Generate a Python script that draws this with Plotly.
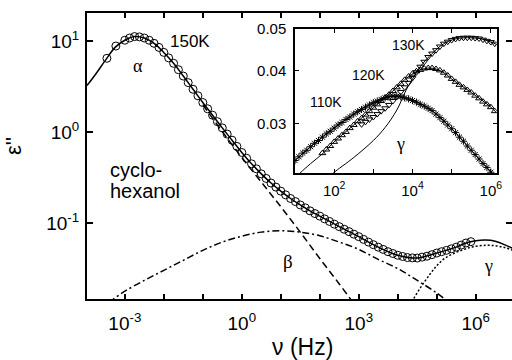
import plotly.graph_objects as go

# ---------------- main panel: cyclohexanol, 150 K ----------------
# measured dielectric loss (open circles)
nu_150K = [3.47e-4, 5.89e-4,
           1.00e-3, 1.33e-3, 1.78e-3, 2.37e-3, 3.16e-3, 4.22e-3, 5.62e-3, 7.50e-3,
           1.00e-2, 1.33e-2, 1.78e-2, 2.37e-2, 3.16e-2, 4.22e-2, 5.62e-2, 7.50e-2,
           1.00e-1, 1.33e-1, 1.78e-1, 2.37e-1, 3.16e-1, 4.22e-1, 5.62e-1, 7.50e-1,
           1.00e0, 1.33e0, 1.78e0, 2.37e0, 3.16e0, 4.22e0, 5.62e0, 7.50e0,
           1.00e1, 1.33e1, 1.78e1, 2.37e1, 3.16e1, 4.22e1, 5.62e1, 7.50e1,
           1.00e2, 1.33e2, 1.78e2, 2.37e2, 3.16e2, 4.22e2, 5.62e2, 7.50e2,
           1.00e3, 1.33e3, 1.78e3, 2.37e3, 3.16e3, 4.22e3, 5.62e3, 7.50e3,
           1.00e4, 1.33e4, 1.78e4, 2.37e4, 3.16e4, 4.22e4, 5.62e4, 7.50e4,
           1.00e5, 1.33e5, 1.78e5, 2.37e5, 3.16e5, 4.22e5, 5.62e5, 7.50e5]
eps_150K = [6.46, 8.81,
            10.2, 10.8, 11.2, 11.1, 10.8, 10.2, 9.44, 8.51,
            7.50, 6.53, 5.69, 4.84, 4.12, 3.49, 2.95, 2.50,
            2.11, 1.80, 1.53, 1.30, 1.11, 0.949, 0.813, 0.695,
            0.596, 0.515, 0.447, 0.394, 0.347, 0.309, 0.275, 0.248,
            0.224, 0.204, 0.186, 0.172, 0.158, 0.147, 0.136, 0.127,
            0.119, 0.111, 0.104, 0.0971, 0.0912, 0.0855, 0.0804, 0.0754,
            0.0708, 0.0661, 0.0617, 0.0578, 0.0543, 0.0513, 0.0484, 0.0462,
            0.0442, 0.0429, 0.0417, 0.0414, 0.0412, 0.0422, 0.0432, 0.0449,
            0.0468, 0.0484, 0.0501, 0.0521, 0.0543, 0.0572, 0.0603, 0.0624]

# total fit curve
nu_fit = [1.07e-4, 1.78e-4, 3.16e-4, 5.62e-4, 1.00e-3, 1.78e-3, 3.16e-3, 5.62e-3,
          1.00e-2, 1.78e-2, 3.16e-2, 5.62e-2, 1.00e-1, 1.78e-1, 3.16e-1, 5.62e-1,
          1.00, 1.78, 3.16, 5.62, 10.0, 17.8, 31.6, 56.2, 100, 316, 1.00e3, 3.16e3,
          1.00e4, 3.16e4, 1.00e5, 3.16e5, 5.62e5, 1.00e6, 1.78e6, 3.16e6, 5.62e6, 1.00e7]
eps_fit = [3.24, 4.32, 6.12, 8.51, 10.2, 11.2, 10.8, 9.44,
           7.50, 5.69, 4.12, 2.95, 2.11, 1.53, 1.11, 0.813,
           0.596, 0.447, 0.347, 0.275, 0.224, 0.186, 0.158, 0.136, 0.119, 0.0912, 0.0708, 0.0543,
           0.0442, 0.0412, 0.0468, 0.0543, 0.0603, 0.0638, 0.0650, 0.0631, 0.0575, 0.0513]

# alpha relaxation (dashed)
nu_alpha = [0.1, 0.316, 1.0, 3.16, 10.0, 31.6, 100, 316, 1000]
eps_alpha = [2.0, 1.01, 0.525, 0.282, 0.151, 0.0794, 0.0407, 0.0214, 0.011]

# beta relaxation (dash-dot)
nu_beta = [3.98e-4, 5.01e-4, 1.00e-3, 3.16e-3, 1.00e-2, 3.16e-2, 0.1, 0.316, 1.0, 3.16,
           10.0, 31.6, 100, 316, 1.00e3, 3.16e3, 1.00e4, 3.16e4, 1.00e5, 2.00e5]
eps_beta = [0.0133, 0.0145, 0.0178, 0.0234, 0.0302, 0.0389, 0.0501, 0.0617, 0.0716, 0.0794,
            0.0822, 0.0794, 0.0724, 0.0617, 0.0513, 0.0398, 0.0316, 0.0234, 0.0170, 0.0135]

# gamma relaxation (dotted)
nu_gamma = [2.00e4, 2.51e4, 3.98e4, 6.76e4, 1.00e5, 1.58e5, 2.69e5, 5.01e5, 8.71e5,
            1.78e6, 3.16e6, 5.62e6, 1.00e7]
eps_gamma = [0.0126, 0.0146, 0.0200, 0.0275, 0.0339, 0.0407, 0.0462, 0.0513, 0.0550,
             0.0569, 0.0562, 0.0537, 0.0490]

# ---------------- inset: gamma relaxation at low temperatures ----------------
nu_grid = [10.0, 12.6, 15.8, 20.0, 25.1, 31.6, 39.8, 50.1, 63.1, 79.4,
           100, 126, 158, 200, 251, 316, 398, 501, 631, 794,
           1.00e3, 1.26e3, 1.58e3, 2.00e3, 2.51e3, 3.16e3, 3.98e3, 5.01e3, 6.31e3, 7.94e3,
           1.00e4, 1.26e4, 1.58e4, 2.00e4, 2.51e4, 3.16e4, 3.98e4, 5.01e4, 6.31e4, 7.94e4,
           1.00e5, 1.26e5, 1.58e5, 2.00e5, 2.51e5, 3.16e5, 3.98e5, 5.01e5, 6.31e5, 7.94e5,
           1.00e6, 1.26e6]

eps_110K = [0.0246, 0.0251, 0.0256, 0.0260, 0.0265, 0.0270, 0.0274, 0.0279, 0.0284, 0.0288,
            0.0293, 0.0298, 0.0302, 0.0307, 0.0311, 0.0316, 0.0320, 0.0324, 0.0328, 0.0332,
            0.0336, 0.0339, 0.0342, 0.0345, 0.0347, 0.0348, 0.0348, 0.0347, 0.0345, 0.0343,
            0.0340, 0.0337, 0.0333, 0.0330, 0.0326, 0.0322, 0.0316, 0.0310, 0.0304, 0.0298,
            0.0292, 0.0286, 0.0279, 0.0273, 0.0266, 0.0260, 0.0254, 0.0248, 0.0242, 0.0237,
            0.0231]
nu_110K = nu_grid[0:51]

eps_120K = [0.0256, 0.0261, 0.0266,
            0.0272, 0.0277, 0.0282, 0.0287, 0.0293, 0.0298, 0.0304, 0.0309, 0.0315, 0.0321,
            0.0327, 0.0333, 0.0339, 0.0345, 0.0351, 0.0358, 0.0365, 0.0372, 0.0380, 0.0387,
            0.0393, 0.0398, 0.0401, 0.0404, 0.0405, 0.0405, 0.0403, 0.0400, 0.0395, 0.0389,
            0.0382, 0.0376, 0.0370, 0.0365, 0.0360, 0.0355, 0.0349, 0.0344, 0.0338, 0.0333,
            0.0328, 0.0321]
nu_120K = nu_grid[7:52]

eps_130K = [0.0299, 0.0303, 0.0307,
            0.0311, 0.0316, 0.0321, 0.0326, 0.0332, 0.0339, 0.0347, 0.0356, 0.0365, 0.0374,
            0.0384, 0.0396, 0.0408, 0.0419, 0.0430, 0.0438, 0.0446, 0.0455, 0.0462, 0.0467,
            0.0471, 0.0474, 0.0476, 0.0477, 0.0477, 0.0477, 0.0476, 0.0475, 0.0472, 0.0469,
            0.0466, 0.0462]
nu_130K = nu_grid[17:52]

# inset fit curves
nu_fit110 = [10.0, 31.6, 100, 316, 1.00e3, 3.16e3, 1.00e4, 3.16e4, 1.00e5, 3.16e5, 1.00e6, 1.41e6]
eps_fit110 = [0.0246, 0.0270, 0.0293, 0.0316, 0.0336, 0.0348, 0.0340, 0.0322, 0.0292, 0.0260, 0.0231, 0.0223]

nu_fit120 = [10.0, 13.5, 25.1, 52.5, 100, 316, 1.00e3, 3.16e3, 7.94e3, 1.58e4, 2.51e4, 3.98e4,
             6.31e4, 1.00e5, 3.16e5, 1.00e6, 1.41e6]
eps_fit120 = [0.0224, 0.0230, 0.0242, 0.0256, 0.0272, 0.0298, 0.0327, 0.0358, 0.0387, 0.0401, 0.0405, 0.0403,
              0.0395, 0.0382, 0.0355, 0.0328, 0.0318]

nu_fit130 = [79.4, 95.5, 316, 1.00e3, 2.00e3, 3.98e3, 6.92e3, 1.00e4, 1.58e4, 3.16e4, 6.31e4,
             1.26e5, 2.51e5, 5.01e5, 1.00e6, 1.41e6]
eps_fit130 = [0.0226, 0.0230, 0.0250, 0.0274, 0.0294, 0.0323, 0.0360, 0.0382, 0.0408, 0.0438, 0.0462,
              0.0474, 0.0477, 0.0475, 0.0466, 0.0460]

# tick positions and labels
main_major = [1e-3, 1e0, 1e3, 1e6]
main_major_txt = ["10<sup>-3</sup>", "10<sup>0</sup>", "10<sup>3</sup>", "10<sup>6</sup>"]
main_minor = [1e-2, 1e-1, 1e1, 1e2, 1e4, 1e5]
main_y = [0.1, 1, 10]
main_y_txt = ["10<sup>-1</sup>", "10<sup>0</sup>", "10<sup>1</sup>"]
inset_major = [1e2, 1e4, 1e6]
inset_major_txt = ["10<sup>2</sup>", "10<sup>4</sup>", "10<sup>6</sup>"]
inset_minor = [1e1, 1e3, 1e5]
inset_y = [0.03, 0.04, 0.05]
inset_y_txt = ["0.03", "0.04", "0.05"]

# ---------------- figure ----------------
FONT = "Liberation Sans, Arial, Helvetica, sans-serif"
GREEK = "Liberation Serif, Times New Roman, serif"
BLACK = "black"

L, T, W, H = 87, 13, 425, 286   # plot area in pixels


def xp(x):
    return (x - L) / W


def yp(y):
    return (T + H - y) / H


fig = go.Figure()

line_kw = dict(color=BLACK, width=1.5, shape="spline")
fig.add_trace(go.Scatter(x=nu_beta, y=eps_beta, mode="lines",
                         line=dict(line_kw, dash="7px,3px,2px,3px")))
fig.add_trace(go.Scatter(x=nu_gamma, y=eps_gamma, mode="lines",
                         line=dict(line_kw, dash="2px,2px")))
fig.add_trace(go.Scatter(x=nu_alpha, y=eps_alpha, mode="lines",
                         line=dict(line_kw, dash="7px,4px")))
fig.add_trace(go.Scatter(x=nu_fit, y=eps_fit, mode="lines", line=line_kw))
fig.add_trace(go.Scatter(x=nu_150K, y=eps_150K, mode="markers",
                         marker=dict(symbol="circle-open", size=8, color=BLACK,
                                     line=dict(width=1, color=BLACK))))
# right-hand tick marks of the main frame
fig.add_trace(go.Scatter(x=[], y=[], yaxis="y2", mode="lines"))

# inset traces
thin = dict(color=BLACK, width=1, shape="spline")
for nu, ep in ((nu_fit110, eps_fit110), (nu_fit120, eps_fit120), (nu_fit130, eps_fit130)):
    fig.add_trace(go.Scatter(x=nu, y=ep, mode="lines", line=thin, xaxis="x2", yaxis="y3"))
for nu, ep, sym, size in ((nu_110K, eps_110K, "asterisk-open", 6),
                          (nu_120K, eps_120K, "triangle-up-open", 6),
                          (nu_130K, eps_130K, "triangle-down-open", 6)):
    fig.add_trace(go.Scatter(x=nu, y=ep, mode="markers", xaxis="x2", yaxis="y3",
                             marker=dict(symbol=sym, size=size, color=BLACK,
                                         line=dict(width=1, color=BLACK))))

common = dict(showgrid=False, zeroline=False, automargin=False, tickcolor=BLACK,
              linecolor=BLACK)

fig.update_layout(
    width=512, height=360,
    margin=dict(l=L, r=512 - L - W, t=T, b=360 - T - H, pad=0, autoexpand=False),
    paper_bgcolor="white", plot_bgcolor="white",
    showlegend=False,
    font=dict(family=FONT, color=BLACK, size=19),
    xaxis=dict(common, type="log", range=[-3.97, 6.93],
               showline=True, linewidth=2, mirror="ticks",
               ticks="inside", ticklen=5, tickwidth=1.5,
               tickvals=main_major, ticktext=main_major_txt,
               minor=dict(tickvals=main_minor, ticks="inside", ticklen=5, tickwidth=1.5,
                          tickcolor=BLACK, showgrid=False),
               tickfont=dict(size=19), ticklabelstandoff=6),
    yaxis=dict(common, type="log", range=[-1.835, 1.308],
               showline=True, linewidth=2, mirror=False,
               ticks="inside", ticklen=6, tickwidth=1.5,
               tickvals=main_y, ticktext=main_y_txt,
               tickfont=dict(size=19), ticklabelstandoff=2),
    yaxis2=dict(common, type="log", range=[-1.835, 1.308], overlaying="y", side="right",
                anchor="x", showline=False,
                ticks="inside", ticklen=6, tickwidth=1.5,
                tickvals=main_y, showticklabels=False),
    xaxis2=dict(common, type="log", domain=[xp(295), xp(496.7)], anchor="y3", range=[1, 6.15],
                showline=True, linewidth=1.5, mirror="ticks", ticks="inside", ticklen=4,
                tickwidth=1, tickvals=inset_major, ticktext=inset_major_txt,
                minor=dict(tickvals=inset_minor, ticks="inside", ticklen=4, tickwidth=1,
                           tickcolor=BLACK, showgrid=False),
                tickfont=dict(size=15), ticklabelstandoff=3),
    yaxis3=dict(common, type="log", domain=[yp(173), yp(29)], anchor="x2",
                range=[-1.6383, -1.30103],
                showline=True, linewidth=1.5, mirror="ticks",
                ticks="inside", ticklen=4, tickwidth=1,
                tickvals=inset_y, ticktext=inset_y_txt,
                tickfont=dict(size=15), ticklabelstandoff=4),
)


def label(text, x, y, size, family=FONT, xanchor="center", angle=0):
    fig.add_annotation(text=text, x=xp(x), y=yp(y), xref="paper", yref="paper",
                       showarrow=False, xanchor=xanchor, yanchor="middle",
                       textangle=angle, font=dict(family=family, size=size, color=BLACK))


label("150K", 190, 41, 17)
label("α", 137.5, 66, 18, GREEK)
label("cyclo-", 108, 170, 20, xanchor="left")
label("hexanol", 108, 191, 20, xanchor="left")
label("β", 288, 261, 19, GREEK)
label("γ", 488, 266, 18, GREEK)
label("γ", 400, 144, 18, GREEK)
label("130K", 408, 45, 14)
label("120K", 368, 75, 14)
label("110K", 326, 102, 14)
label("ν (Hz)", 302, 347, 23)
label("ε''", 13, 146, 22, angle=-90)

fig.write_html("out.html")
